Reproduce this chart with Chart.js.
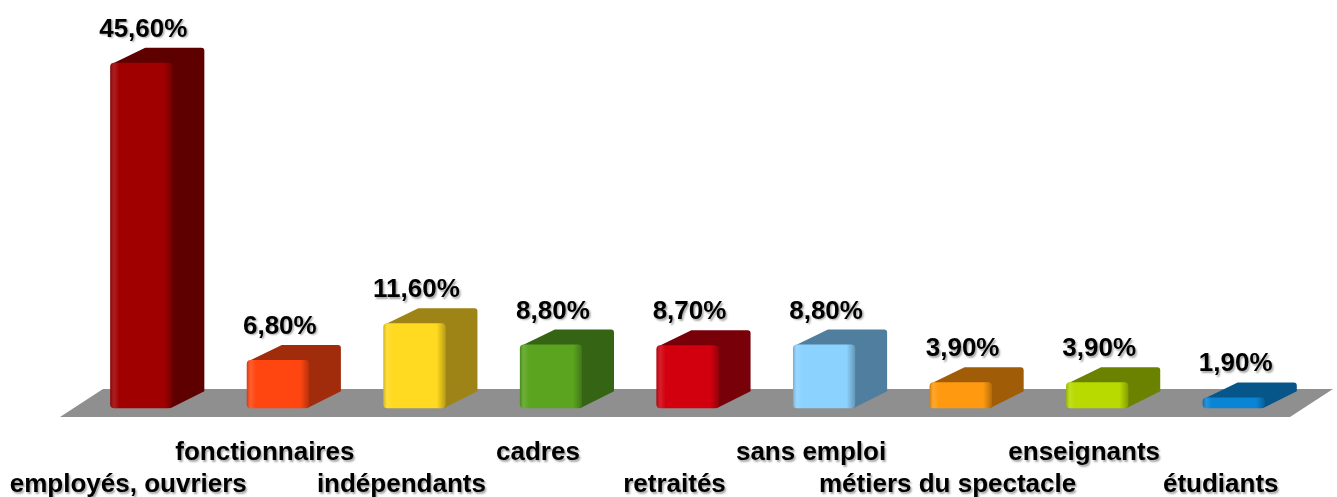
<!DOCTYPE html>
<html>
<head>
<meta charset="utf-8">
<script src="https://cdn.jsdelivr.net/npm/chart.js@4.4.0/dist/chart.umd.min.js"></script>
<style>
  html, body { margin: 0; padding: 0; background: #fff; }
  #wrap { width: 1337px; height: 497px; position: relative; }
</style>
</head>
<body>
<div id="wrap"><canvas id="chart"></canvas></div>
<script>
const categories = [
  "employés, ouvriers", "fonctionnaires", "indépendants", "cadres", "retraités",
  "sans emploi", "métiers du spectacle", "enseignants", "étudiants",
];
const values = [45.6, 6.8, 11.6, 8.8, 8.7, 8.8, 3.9, 3.9, 1.9];
const frontColors = [
  "#a00000", "#ff4611", "#ffda20", "#5aa41f", "#d2000e",
  "#8cd2ff", "#ff9a10", "#b8da00", "#0a84d4",
];
const depthColors = [
  "#5e0000", "#a02c0c", "#9e8416", "#346414", "#780008",
  "#4f7e9e", "#a05c06", "#6a8200", "#07568a",
];

const FONT = "'Liberation Sans', Arial, sans-serif";
const DEPTH_X = 32;
const DEPTH_Y = -15;

const fmt = (v) => v.toFixed(2).replace(".", ",") + "%";

function setShadow(ctx) {
  ctx.shadowColor = "rgba(0,0,0,0.35)";
  ctx.shadowOffsetX = 1.5;
  ctx.shadowOffsetY = 1.5;
  ctx.shadowBlur = 2;
}

function clearShadow(ctx) {
  ctx.shadowColor = "rgba(0,0,0,0)";
  ctx.shadowOffsetX = 0;
  ctx.shadowOffsetY = 0;
  ctx.shadowBlur = 0;
}

// draws the floor, the top and side faces, the edge shading and the value labels
const bar3d = {
  id: "bar3d",
  beforeDraw(chart) {
    // tick labels get the soft shadow
    setShadow(chart.ctx);
  },
  beforeDatasetsDraw(chart) {
    const ctx = chart.ctx;
    const area = chart.chartArea;
    const y0 = chart.scales.y.getPixelForValue(0);
    clearShadow(ctx);

    // floor
    const fy = y0 + 5;
    const fl = area.left - 13;
    const fr = area.right - 12;
    ctx.save();
    ctx.fillStyle = "#8f8f8f";
    ctx.beginPath();
    ctx.moveTo(fl, fy);
    ctx.lineTo(fr, fy);
    ctx.lineTo(fr + 43, fy - 28);
    ctx.lineTo(fl + 43, fy - 28);
    ctx.closePath();
    ctx.fill();
    ctx.restore();

    // depth faces
    const meta = chart.getDatasetMeta(0);
    meta.data.forEach((bar, i) => {
      const left = bar.x - bar.width / 2;
      const right = bar.x + bar.width / 2;
      const top = bar.y;
      const bottom = bar.base;
      ctx.save();
      ctx.fillStyle = depthColors[i];
      ctx.beginPath();
      ctx.moveTo(left + 2, top + 1);
      ctx.lineTo(left + DEPTH_X + 3, top + DEPTH_Y);
      ctx.lineTo(right + DEPTH_X - 3, top + DEPTH_Y);
      ctx.quadraticCurveTo(right + DEPTH_X, top + DEPTH_Y, right + DEPTH_X, top + DEPTH_Y + 3);
      ctx.lineTo(right + DEPTH_X, bottom + DEPTH_Y - 2);
      ctx.lineTo(right - 2, bottom);
      ctx.lineTo(right - 2, top + 1);
      ctx.closePath();
      ctx.fill();
      ctx.restore();
    });
  },
  afterDatasetsDraw(chart) {
    const ctx = chart.ctx;
    const meta = chart.getDatasetMeta(0);
    meta.data.forEach((bar, i) => {
      const left = bar.x - bar.width / 2;
      const right = bar.x + bar.width / 2;
      const top = bar.y;
      const h = bar.base - bar.y;

      // soft bevel on the front face
      ctx.save();
      const g = ctx.createLinearGradient(left, 0, right, 0);
      g.addColorStop(0, "rgba(0,0,0,0.18)");
      g.addColorStop(0.06, "rgba(255,255,255,0.12)");
      g.addColorStop(0.15, "rgba(255,255,255,0)");
      g.addColorStop(0.86, "rgba(0,0,0,0)");
      g.addColorStop(1, "rgba(0,0,0,0.28)");
      ctx.fillStyle = g;
      ctx.beginPath();
      ctx.roundRect(left, top, bar.width, h, 4);
      ctx.fill();
      ctx.restore();

      // value label
      ctx.save();
      setShadow(ctx);
      ctx.font = "bold 26px " + FONT;
      ctx.fillStyle = "#000";
      ctx.textAlign = "center";
      ctx.textBaseline = "alphabetic";
      ctx.fillText(fmt(values[i]), bar.x + 2, top - 26);
      ctx.restore();
    });
  },
};

new Chart(document.getElementById("chart").getContext("2d"), {
  type: "bar",
  data: {
    labels: categories,
    datasets: [
      {
        data: values,
        base: 0.5,
        backgroundColor: frontColors,
        borderWidth: 0,
        borderRadius: 4,
        borderSkipped: false,
        barPercentage: 0.455,
        categoryPercentage: 1,
      },
    ],
  },
  options: {
    responsive: true,
    maintainAspectRatio: false,
    animation: false,
    layout: { padding: { left: 73, right: 35, top: 29, bottom: 0 } },
    plugins: {
      legend: { display: false },
      tooltip: { enabled: false },
    },
    scales: {
      y: { display: false, min: 0, max: 50 },
      x: {
        offset: true,
        grid: { display: false, drawTicks: false },
        border: { display: false },
        ticks: {
          autoSkip: false,
          maxRotation: 0,
          padding: 25,
          labelOffset: -13,
          color: "#000",
          font: { family: FONT, size: 26, weight: "bold", lineHeight: 1.23 },
          callback: (v, i) => (i % 2 === 0 ? ["", categories[i]] : [categories[i], ""]),
        },
        afterFit(scale) {
          // long labels may hang past the plot edges, keep the plot width fixed
          scale.paddingLeft = 0;
          scale.paddingRight = 0;
          scale.height = 85;
        },
      },
    },
  },
  plugins: [bar3d],
});
</script>
</body>
</html>
